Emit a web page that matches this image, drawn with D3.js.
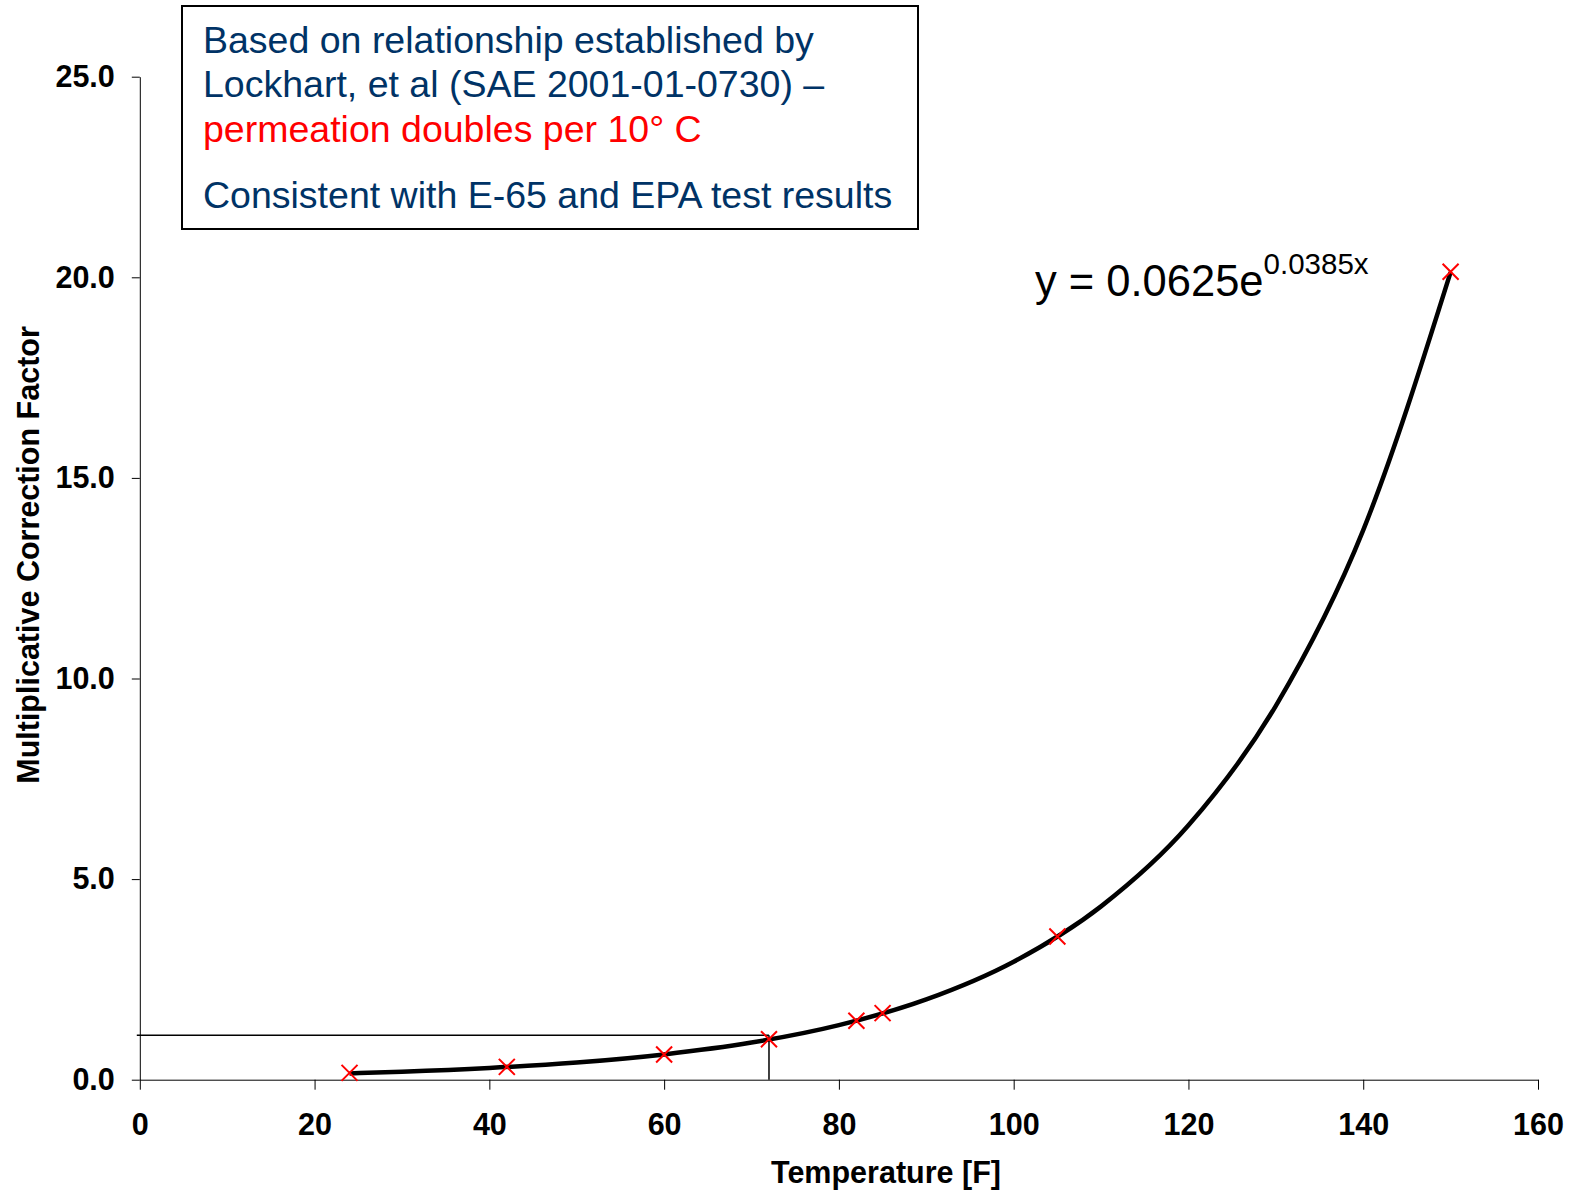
<!DOCTYPE html>
<html lang="en">
<head>
  <meta charset="utf-8">
  <title>Multiplicative Correction Factor vs Temperature</title>
  <script src="https://d3js.org/d3.v7.min.js"></script>
  <style>
    body { margin: 0; background: #fff; }
    svg text { font-family: "Liberation Sans", Arial, sans-serif; }
  </style>
</head>
<body>
<script>
// measured points (red crosses)
var tempF = [24, 42, 60, 72, 82, 85, 105, 150];
var factor = [0.17, 0.32, 0.63, 1.01, 1.47, 1.66, 3.57, 20.14];

// exponential trendline
var trendX = [24, 30, 40, 50, 60, 70, 80, 90, 100, 110, 120, 130, 140, 150];
var trendY = [0.157, 0.198, 0.292, 0.428, 0.63, 0.925, 1.36, 2.0, 2.94, 4.32, 6.34, 9.32, 13.7, 20.13];

// the 72 F reference lines
var refTemp = 72;
var refFactor = 1.11;

var xTicks = [0, 20, 40, 60, 80, 100, 120, 140, 160];
var yTicks = [0, 5, 10, 15, 20, 25];

var noteLines = [
  "Based on relationship established by",
  "Lockhart, et al (SAE 2001-01-0730) \u2013",
  "permeation doubles per 10\u00b0 C",
  "Consistent with E-65 and EPA test results"
];
var noteColors = ["#003366", "#003366", "#ff0000", "#003366"];
var equation = "y = 0.0625e";
var equationExp = "0.0385x";

var w = 1572;
var h = 1191;

var svg = d3.select("body").append("svg")
  .attr("width", w)
  .attr("height", h);

var x = d3.scaleLinear().domain([0, 160]).range([139.8, 1538]);
var y = d3.scaleLinear().domain([0, 25]).range([1079.7, 76.7]);

// axes
var xAxis = svg.append("g")
  .attr("transform", "translate(0," + y(0) + ")")
  .call(d3.axisBottom(x).tickValues(xTicks).tickFormat(d3.format("d"))
    .tickSize(10).tickSizeOuter(0).tickPadding(24));

var yAxis = svg.append("g")
  .attr("transform", "translate(" + x(0) + ",0)")
  .call(d3.axisLeft(y).tickValues(yTicks).tickFormat(d3.format(".1f"))
    .tickSize(8).tickSizeOuter(0).tickPadding(17));

svg.selectAll(".tick text")
  .style("font-size", "30.5px")
  .style("font-weight", "bold")
  .attr("fill", "#000");
svg.selectAll(".domain, .tick line").attr("stroke", "#000");

// axis titles
svg.append("text")
  .attr("x", 886)
  .attr("y", 1183)
  .attr("text-anchor", "middle")
  .style("font-size", "30.5px")
  .style("font-weight", "bold")
  .text("Temperature [F]");

svg.append("text")
  .attr("transform", "translate(39,555) rotate(-90)")
  .attr("text-anchor", "middle")
  .style("font-size", "30.5px")
  .style("font-weight", "bold")
  .text("Multiplicative Correction Factor");

// reference lines at 72 F
svg.append("line")
  .attr("x1", x(0) - 3).attr("y1", y(refFactor))
  .attr("x2", x(refTemp)).attr("y2", y(refFactor))
  .attr("stroke", "#000").attr("stroke-width", 1.5);
svg.append("line")
  .attr("x1", x(refTemp)).attr("y1", y(0))
  .attr("x2", x(refTemp)).attr("y2", y(refFactor))
  .attr("stroke", "#000").attr("stroke-width", 1.5);

// trendline
var trend = trendX.map(function(d, i) { return [d, trendY[i]]; });
var line = d3.line()
  .x(function(d) { return x(d[0]); })
  .y(function(d) { return y(d[1]); })
  .curve(d3.curveMonotoneX);

svg.append("path")
  .datum(trend)
  .attr("d", line)
  .attr("fill", "none")
  .attr("stroke", "#000")
  .attr("stroke-width", 4.5);

// red crosses
var pts = tempF.map(function(d, i) { return { t: d, f: factor[i] }; });
svg.selectAll(".pt")
  .data(pts)
  .enter()
  .append("path")
  .attr("class", "pt")
  .attr("d", function(d) {
    var cx = x(d.t), cy = y(d.f), r = 8;
    return "M" + (cx - r) + "," + (cy - r) + "L" + (cx + r) + "," + (cy + r) +
           "M" + (cx - r) + "," + (cy + r) + "L" + (cx + r) + "," + (cy - r);
  })
  .attr("stroke", "#ff0000")
  .attr("stroke-width", 2)
  .attr("fill", "none");

// equation label
var eq = svg.append("text")
  .attr("x", 1035)
  .attr("y", 296)
  .style("font-size", "43.5px")
  .attr("fill", "#000");
eq.append("tspan").text(equation);
eq.append("tspan")
  .attr("dy", -22)
  .style("font-size", "29.5px")
  .text(equationExp);

// note box
svg.append("rect")
  .attr("x", 182)
  .attr("y", 6)
  .attr("width", 736)
  .attr("height", 223)
  .attr("fill", "#fff")
  .attr("stroke", "#000")
  .attr("stroke-width", 2);

var noteY = [52.7, 97.3, 141.7, 208.3];
svg.selectAll(".note")
  .data(noteLines)
  .enter()
  .append("text")
  .attr("class", "note")
  .attr("x", 203)
  .attr("y", function(d, i) { return noteY[i]; })
  .attr("fill", function(d, i) { return noteColors[i]; })
  .style("font-size", "37.5px")
  .text(function(d) { return d; });
</script>
</body>
</html>
